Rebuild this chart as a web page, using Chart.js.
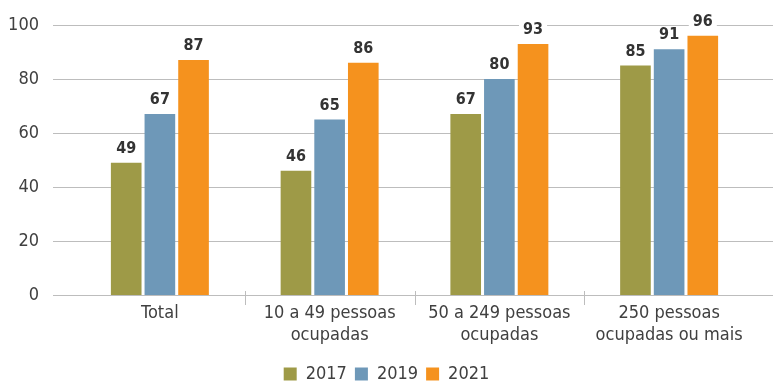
<!DOCTYPE html>
<html>
<head>
<meta charset="utf-8">
<script src="https://cdn.jsdelivr.net/npm/chart.js@4.4.1/dist/chart.umd.min.js"></script>
<style>
  html, body { margin: 0; padding: 0; background: #fff; }
  #wrap { width: 773px; height: 382px; position: relative; }
</style>
</head>
<body>
<div id="wrap"><canvas id="myBarChart"></canvas></div>
<script>
const categories = [
    ['Total'],
    ['10 a 49 pessoas', 'ocupadas'],
    ['50 a 249 pessoas', 'ocupadas'],
    ['250 pessoas', 'ocupadas ou mais']
];
const years = ['2017', '2019', '2021'];
const values2017 = [49, 46, 67, 85];
const values2019 = [67, 65, 80, 91];
const values2021 = [87, 86, 93, 96];
const yTicks = [0, 20, 40, 60, 80, 100];

const FONT = '"Liberation Sans Narrow", "DejaVu Sans Condensed", "Roboto", sans-serif';
const TEXT = '#404040';
const GRID = '#bdbdbd';

// gridlines run wider than the bar area, and the value labels sit on white
const extras = {
    id: 'extras',
    beforeDatasetsDraw(chart) {
        const ctx = chart.ctx;
        const y = chart.scales.y;
        const x = chart.scales.x;
        ctx.save();
        ctx.strokeStyle = GRID;
        ctx.lineWidth = 1;
        yTicks.forEach(t => {
            const py = Math.round(y.getPixelForValue(t)) + 0.5;
            ctx.beginPath();
            ctx.moveTo(53, py);
            ctx.lineTo(773, py);
            ctx.stroke();
        });
        const base = y.getPixelForValue(0);
        for (let i = 1; i < categories.length; i++) {
            const px = Math.round((x.getPixelForValue(i - 1) + x.getPixelForValue(i)) / 2) + 0.5;
            ctx.beginPath();
            ctx.moveTo(px, base - 4);
            ctx.lineTo(px, base + 10);
            ctx.stroke();
        }
        ctx.restore();
    },
    afterDatasetsDraw(chart) {
        const ctx = chart.ctx;
        ctx.save();
        ctx.font = 'bold 16px ' + FONT;
        ctx.textAlign = 'center';
        ctx.textBaseline = 'middle';
        chart.data.datasets.forEach((ds, di) => {
            const meta = chart.getDatasetMeta(di);
            meta.data.forEach((bar, i) => {
                const txt = String(ds.data[i]);
                const w = ctx.measureText(txt).width;
                const cy = bar.y - 14;
                ctx.fillStyle = '#ffffff';
                ctx.fillRect(bar.x - w / 2 - 4, cy - 8, w + 8, 16);
                ctx.fillStyle = '#333333';
                ctx.fillText(txt, bar.x, cy);
            });
        });
        ctx.restore();
    }
};

const config = {
    type: 'bar',
    data: {
        labels: categories,
        datasets: [
            { label: years[0], data: values2017, backgroundColor: '#9e9a47' },
            { label: years[1], data: values2019, backgroundColor: '#6e98b8' },
            { label: years[2], data: values2021, backgroundColor: '#f5921e' }
        ]
    },
    options: {
        responsive: true,
        maintainAspectRatio: false,
        animation: false,
        layout: { padding: { top: 25, right: 0, left: 0, bottom: -11 } },
        datasets: { bar: { categoryPercentage: 0.595, barPercentage: 0.91 } },
        scales: {
            x: {
                grid: { display: false, tickLength: 0 },
                border: { display: false },
                ticks: {
                    color: TEXT,
                    padding: 7,
                    maxRotation: 0,
                    autoSkip: false,
                    font: { family: FONT, size: 18, lineHeight: 1.22 }
                },
                afterFit(scale) { scale.height = 62; }
            },
            y: {
                min: 0,
                max: 100,
                grid: { display: false, tickLength: 36 },
                border: { display: false },
                afterBuildTicks(scale) { scale.ticks = yTicks.map(v => ({ value: v })); },
                ticks: {
                    color: TEXT,
                    padding: 0,
                    font: { family: FONT, size: 18 }
                },
                afterFit(scale) { scale.width = 75; }
            },
            yRight: {
                type: 'linear',
                position: 'right',
                grid: { display: false, tickLength: 0 },
                border: { display: false },
                ticks: { display: false },
                afterFit(scale) { scale.width = 19; }
            }
        },
        plugins: {
            tooltip: { enabled: false },
            legend: {
                position: 'bottom',
                labels: {
                    color: TEXT,
                    boxWidth: 13,
                    boxHeight: 13,
                    padding: 8,
                    font: { family: FONT, size: 18 }
                }
            }
        }
    },
    plugins: [extras]
};

new Chart(document.querySelector('#myBarChart'), config);
</script>
</body>
</html>
